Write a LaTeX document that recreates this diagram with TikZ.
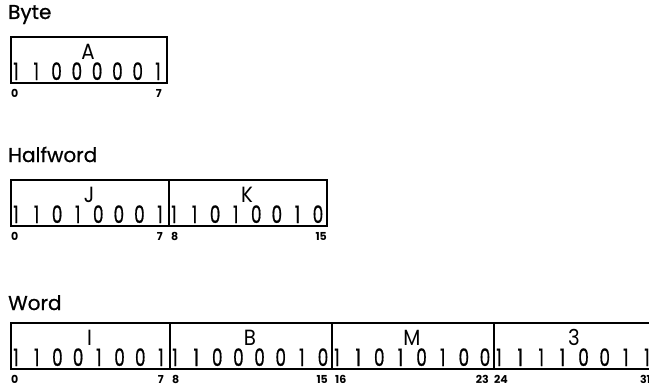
\documentclass[tikz,border=0pt]{standalone}
\usepackage{fontspec}
\setmainfont{Poppins}
\newfontfamily\bitfont[FakeStretch=0.7,FakeBold=0.6]{Poppins}
\newfontfamily\letfont[FakeStretch=0.9]{Poppins}
\newfontfamily\titlefont[FakeBold=0.8]{Poppins}
\usetikzlibrary{calc}
\tikzset{
  cell/.style={draw, line width=1.7pt, minimum height=46, inner sep=0pt, anchor=north west},
  bitstyle/.style={anchor=base, inner sep=0pt, font=\bitfont\fontsize{24}{24}\selectfont},
  letterstyle/.style={anchor=base, inner sep=0pt, font=\letfont\fontsize{22}{22}\selectfont},
  title/.style={anchor=base west, inner sep=0pt, font=\titlefont\fontsize{20}{20}\selectfont},
  lab/.style={inner sep=0pt, font=\bfseries\fontsize{11}{11}\selectfont}
}
\newcommand{\bytecell}[6]{%
  % #1 name, #2 x0, #3 y0, #4 width, #5 letter, #6 bits
  \node[cell, minimum width=#4] (#1) at (#2,#3) {};
  \node[letterstyle] (#1-l) at (#2+#4/2,#3+23) {#5};
  \foreach \b [count=\i] in {#6} {
    \pgfmathsetmacro\xx{#2+6+(\i-1)*(#4-14)/7}
    \node[bitstyle] (#1-\i) at (\xx,#3+44) {\b};
  }
}
\begin{document}
\begin{tikzpicture}[x=1pt,y=-1pt]
  \useasboundingbox (0,0) rectangle (649,388);
  % Byte
  \node[title] (tbyte) at (8,19) {Byte};
  \bytecell{c1}{10}{36}{156}{A}{1,1,0,0,0,0,0,1}
  \node[lab, anchor=base west] (l1a) at (11,97) {0};
  \node[lab, anchor=base east] (l1b) at (162,97) {7};
  % Halfword
  \node[title] (thalf) at (8,162) {Halfword};
  \bytecell{h1}{10}{179}{158}{J}{1,1,0,1,0,0,0,1}
  \bytecell{h2}{168}{179}{158}{K}{1,1,0,1,0,0,1,0}
  \node[lab, anchor=base west] (l2a) at (11,240) {0};
  \node[lab, anchor=base east] (l2b) at (163,240) {7};
  \node[lab, anchor=base west] (l2c) at (171,240) {8};
  \node[lab, anchor=base east] (l2d) at (327,240) {15};
  % Word
  \node[title] (tword) at (8,310) {Word};
  \bytecell{w1}{10}{322}{159}{I}{1,1,0,0,1,0,0,1}
  \bytecell{w2}{169}{322}{162}{B}{1,1,0,0,0,0,1,0}
  \bytecell{w3}{331}{322}{162}{M}{1,1,0,1,0,1,0,0}
  \bytecell{w4}{493}{322}{162}{3}{1,1,1,1,0,0,1,1}
  \node[lab, anchor=base west] (l3a) at (11,383) {0};
  \node[lab, anchor=base east] (l3b) at (164,383) {7};
  \node[lab, anchor=base west] (l3c) at (172,383) {8};
  \node[lab, anchor=base east] (l3d) at (328,383) {15};
  \node[lab, anchor=base west] (l3e) at (335,383) {16};
  \node[lab, anchor=base east] (l3f) at (489,383) {23};
  \node[lab, anchor=base west] (l3g) at (494,383) {24};
  \node[lab, anchor=base east] (l3h) at (651,383) {31};
\end{tikzpicture}
\end{document}
